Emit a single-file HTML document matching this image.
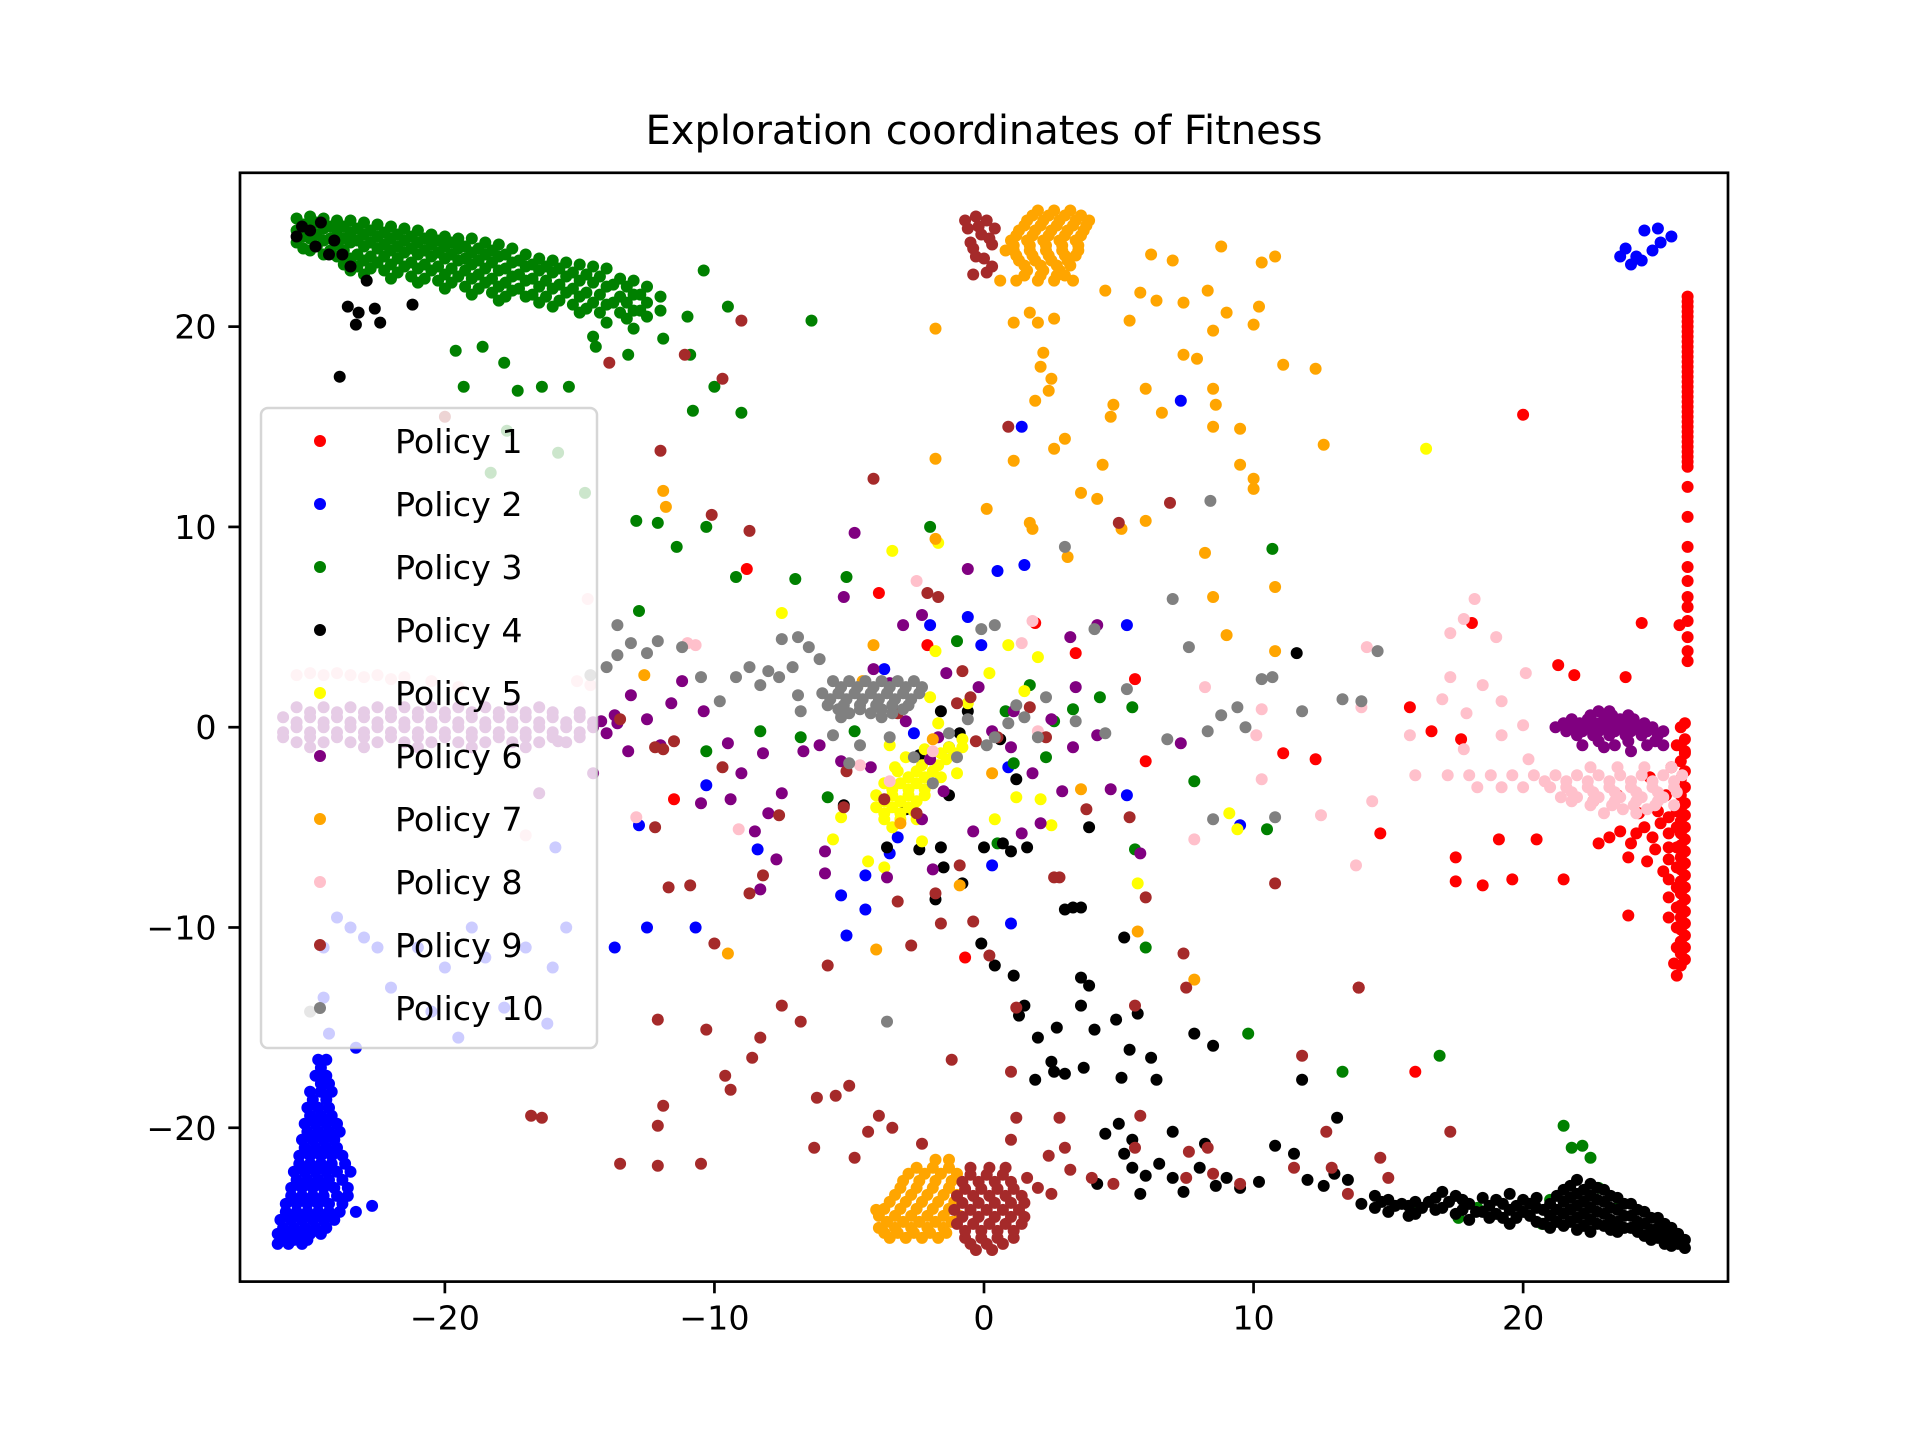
<!DOCTYPE html>
<html><head><meta charset="utf-8"><title>Exploration coordinates of Fitness</title>
<style>html,body{margin:0;padding:0;background:#fff;}svg{display:block;font-family:"DejaVu Sans","Liberation Sans",sans-serif;}</style>
</head><body>
<svg id="chart" width="1920" height="1440" viewBox="0 0 1920 1440" xmlns="http://www.w3.org/2000/svg">
<rect width="1920" height="1440" fill="#fff"/>
<text x="984" y="144" text-anchor="middle" font-size="40" fill="#000">Exploration coordinates of Fitness</text>
<g id="marks"></g>
<g id="axes"></g>
<g id="legend"></g>
</svg>
<script>
const seriesNames = ["Policy 1","Policy 2","Policy 3","Policy 4","Policy 5","Policy 6","Policy 7","Policy 8","Policy 9","Policy 10"];
const seriesColors = ["#ff0000","#0000ff","#008000","#000000","#ffff00","#800080","#ffa500","#ffc0cb","#a52a2a","#808080"];
const xTicks = [-20,-10,0,10,20];
const yTicks = [-20,-10,0,10,20];
const xDomain = [-27.6,27.6];
const yDomain = [-27.68,27.68];

const policy1 = [[26.1,21.5],[26.1,21],[26.1,20.5],[26.1,20],[26.1,19.5],[26.1,19],[26.1,18.5],[26.1,18],[26.1,17.5],[26.1,17],[26.1,16.5],[26.1,16],[26.1,15.5],[26.1,15],[26.1,14.5],[26.1,14],[26.1,13.5],[26.1,13],[26.1,12],[26.1,10.5],[26.1,9],[26.1,8],[26.1,7.3],[26.1,6.5],[26.1,6],[26.1,5.3],[26.1,4.5],[26.1,3.8],[26.1,3.3],[25.8,5.1],
[26,0.2],[26,-0.6],[26,-1.2],[26,-2.2],[26,-3],[26,-3.8],[26,-4.4],[26,-5],[26,-5.6],[26,-6.2],[26,-6.8],[26,-7.4],[26,-8],[26,-8.6],[26,-9.2],[26,-9.8],[26,-10.4],[26,-11],[26,-11.6],[25.7,-12.4],[25.7,-4.2],[25.7,-5],[25.7,-6],[25.7,-7],[25.7,-8],[25.7,-9],[25.7,-10],[25.7,-11],[25.6,-11.8],
[24.5,-5],[24.8,-5.5],[25.1,-4.8],[25.4,-6],[24.2,-5.3],[23.6,-5.2],[23.2,-5.5],[22.8,-5.8],[23.9,-6.5],[24.6,-6.7],[25,-4.2],[25.3,-3.4],[24.7,-2.5],[25.5,-2],[26,-1.3],[25.7,-0.9],[25.2,-7.2],[24.3,-4.3],
[20,15.6],[-8.8,7.9],[-3.9,6.7],[1.9,5.2],[-2.1,4.1],[3.4,3.7],[5.6,2.4],[6,-1.7],[11.1,-1.3],[12.3,-1.6],[14.7,-5.3],[13.9,-13],[16,-17.2],[-0.7,-11.5],[-11.5,-3.6],[15.8,1],[16.6,-0.2],[17.7,-0.6],[18.1,5.2],[21.3,3.1],[21.9,2.6],[17.5,-6.5],[17.5,-7.7],[18.5,-7.9],[19.1,-5.6],[19.6,-7.6],[20.5,-5.6],[21.5,-7.6],[22.6,-3.7],[23.9,-9.4],[23.8,2.5],[24.4,5.2],[23.5,-3.4]];
const policy1Dense = [[26.1,21.25],[26.1,20.75],[26.1,20.25],[26.1,19.75],[26.1,19.25],[26.1,18.75],[26.1,18.25],[26.1,17.75],[26.1,17.25],[26.1,16.75],[26.1,16.25],[26.1,15.75],[26.1,15.25],[26.1,14.75],[26.1,14.25],[26.1,13.75],[26.1,13.25],
[25.85,0],[25.85,-0.9],[25.85,-1.7],[25.85,-2.6],[25.85,-3.4],[25.85,-4.1],[25.85,-4.7],[25.85,-5.3],[25.85,-5.9],[25.85,-6.5],[25.85,-7.1],[25.85,-7.7],[25.85,-8.3],[25.85,-8.9],[25.85,-9.5],[25.85,-10.1],[25.85,-10.7],[25.85,-11.3],[25.85,-11.9],[25.4,-4.5],[25.4,-5.3],[25.4,-6.6],[25.4,-7.6],[25.4,-8.5],[25.4,-9.5],[24.9,-6.1],[24.0,-5.8]];

const policy2 = [[23.6,23.5],[24,23.1],[24.4,23.3],[24.8,23.8],[25.1,24.2],[25.5,24.5],[24.5,24.8],[25,24.9],[23.8,23.9],[24.2,23.5],
[-24.7,-16.6],[-24.4,-16.6],[-24.8,-17.4],[-24.4,-17.4],[-25,-18.2],[-24.6,-18.2],[-24.2,-18.2],[-25.1,-19],[-24.7,-19],[-24.3,-19],[-25.2,-19.8],[-24.8,-19.8],[-24.4,-19.8],[-24,-19.8],[-25.3,-20.6],[-24.9,-20.6],[-24.5,-20.6],[-24.1,-20.6],[-25.4,-21.4],[-25,-21.4],[-24.6,-21.4],[-24.2,-21.4],[-23.8,-21.4],[-25.6,-22.2],[-25.2,-22.2],[-24.8,-22.2],[-24.4,-22.2],[-24,-22.2],[-23.5,-22.2],[-25.7,-23],[-25.3,-23],[-24.9,-23],[-24.5,-23],[-24.1,-23],[-23.6,-23],[-25.9,-23.8],[-25.5,-23.8],[-25.1,-23.8],[-24.7,-23.8],[-24.3,-23.8],[-23.8,-23.8],[-26.1,-24.6],[-25.7,-24.6],[-25.3,-24.6],[-24.9,-24.6],[-24.5,-24.6],[-24.1,-24.6],[-26.2,-25.3],[-25.8,-25.3],[-25.4,-25.3],[-25,-25.3],[-24.6,-25.3],[-26.2,-25.8],[-25.8,-25.8],[-25.3,-25.8],[-22.7,-23.9],[-23.3,-24.2],
[7.3,16.3],[1.4,15],[1.5,8.1],[0.5,7.8],[-2,5.1],[5.3,5.1],[-0.6,5.5],[-0.1,4.1],[-3.7,2.9],[-10.3,-2.9],[-12.8,-4.9],[-13.7,-11],[-10.7,-10],[-12.5,-10],[-8.4,-6.1],[-5.3,-8.4],[-5.1,-10.4],[-4.4,-9.1],[-4.4,-7.4],[-3.5,-6.3],[-3.2,-5.5],[0.3,-6.9],[1,-9.8],[5.3,-3.4],[9.5,-4.9],[-1.3,-1],[-2.6,-0.3],[0.9,-2.0],
[-24,-9.5],[-23.5,-10],[-23,-10.5],[-22.5,-11],[-24.5,-11],[-21,-11],[-20,-12],[-19,-10],[-18.5,-11.5],[-17,-11],[-16,-12],[-15.5,-10],[-24.5,-13.5],[-22,-13],[-20.5,-14.2],[-19.5,-15.5],[-17.8,-14],[-16.2,-14.8],[-24.3,-15.3],[-23.3,-16],[-15.9,-6]];
const policy2Dense = [[-24.6,-17],[-24.6,-17.8],[-24.3,-17.8],[-24.9,-18.6],[-24.4,-18.6],[-25,-19.4],[-24.6,-19.4],[-24.2,-19.4],[-25.1,-20.2],[-24.7,-20.2],[-24.3,-20.2],[-23.9,-20.2],[-25.2,-21],[-24.8,-21],[-24.4,-21],[-24,-21],[-25.4,-21.8],[-25,-21.8],[-24.6,-21.8],[-24.2,-21.8],[-23.7,-21.8],[-25.5,-22.6],[-25.1,-22.6],[-24.7,-22.6],[-24.3,-22.6],[-23.8,-22.6],[-25.7,-23.4],[-25.3,-23.4],[-24.9,-23.4],[-24.5,-23.4],[-24,-23.4],[-23.6,-23.4],[-25.9,-24.2],[-25.5,-24.2],[-25.1,-24.2],[-24.7,-24.2],[-24.3,-24.2],[-23.9,-24.2],[-26,-25],[-25.6,-25],[-25.2,-25],[-24.8,-25],[-24.4,-25],[-26,-25.6],[-25.6,-25.6],[-25.1,-25.6]];

const policy3 = [[-25.5,25.4],[-25.5,24.8],[-25.5,24.2],[-25,25.5],[-25,25],[-25,24.4],[-25,23.8],[-24.5,25.4],[-24.5,24.9],[-24.5,24.3],[-24.5,23.6],[-24,25.3],[-24,24.8],[-24,24.1],[-24,23.5],[-23.5,25.3],[-23.5,24.7],[-23.5,24.2],[-23.5,23.4],[-23.5,22.8],[-23,25.2],[-23,24.6],[-23,24],[-23,23.3],[-23,22.6],[-22.5,25.1],[-22.5,24.5],[-22.5,23.9],[-22.5,23.2],[-22,25],[-22,24.4],[-22,23.8],[-22,23.1],[-22,22.4],[-21.5,24.9],[-21.5,24.3],[-21.5,23.7],[-21.5,23],[-21,24.8],[-21,24.2],[-21,23.6],[-21,22.9],[-21,22.2],[-20.5,24.6],[-20.5,24.1],[-20.5,23.5],[-20.5,22.8],[-20,24.5],[-20,24],[-20,23.4],[-20,22.6],[-20,21.9],[-19.5,24.4],[-19.5,23.9],[-19.5,23.3],[-19.5,22.5],[-19,24.4],[-19,23.7],[-19,23.1],[-19,22.4],[-19,21.6],[-18.5,24.2],[-18.5,23.6],[-18.5,22.9],[-18.5,22.2],[-18,24.1],[-18,23.5],[-18,22.8],[-18,22],[-18,21.3],[-17.5,23.9],[-17.5,23.2],[-17.5,22.5],[-17.5,21.8],[-17,23.6],[-17,23],[-17,22.3],[-17,21.5],[-16.5,23.4],[-16.5,22.8],[-16.5,22],[-16.5,21.2],[-16,23.3],[-16,22.7],[-16,21.9],[-16,21],[-15.5,23.2],[-15.5,22.5],[-15.5,21.7],[-15,23.1],[-15,22.3],[-15,21.5],[-15,20.7],[-14.5,23],[-14.5,22.2],[-14.5,21.2],[-14.5,19.5],[-14,22.9],[-14,22],[-14,21.1],[-14,20.2],[-13.5,22.4],[-13.5,21.5],[-13.5,20.7],[-13,22.3],[-13,21.6],[-13,20.8],[-13,19.9],[-12.5,22],[-12.5,21.2],[-12.5,20.5],[-12,21.5],[-12,20.8],
[-10.4,22.8],[-9.5,21],[-6.4,20.3],[-11,20.5],[-11.9,19.4],[-10.9,18.6],[-10,17],[-9,15.7],[-10.8,15.8],[-13.2,18.6],[-14.4,19],[-15.4,17],[-16.4,17],[-17.3,16.8],[-17.8,18.2],[-18.6,19],[-19.6,18.8],[-19.3,17],[-18.3,12.7],[-17.7,14.8],[-15.8,13.7],[-14.8,11.7],[-12.9,10.3],[-12.1,10.2],[-11.4,9],[-12.8,5.8],[-10.3,10],[-9.2,7.5],[-7,7.4],[-5.1,7.5],[-2,10],[5.5,1],[0.8,0.8],[10.7,8.9],[10.5,-5.1],[6,-11],[9.8,-15.3],[13.3,-17.2],[16.9,-16.4],[21.5,-19.9],[21.8,-21],[22.2,-20.9],[22.5,-21.5],[21,-23.6],[20.7,-24.8],[18.3,-24],[17.6,-24.5],[15.9,-24.2],[22.8,-23],[23.5,-24],[-10.3,-1.2],[-8.3,-0.2],[-6.8,-0.5],[-4.8,-0.2],[1.1,-1.8],[2.3,-1.5],[2.6,0.3],[3.3,0.9],[4.3,1.5],[-1,4.3],[-5.8,-3.5],[0.5,-5.8],[5.6,-6.1],[7.8,-2.7],[1.7,2.1]];
const policy3Dense = [[-25.25,25.1],[-25.25,24.5],[-25.25,23.9],[-24.75,25.2],[-24.75,24.6],[-24.75,24],[-24.25,25],[-24.25,24.4],[-24.25,23.8],[-23.75,25],[-23.75,24.4],[-23.75,23.8],[-23.75,23.1],[-23.25,24.9],[-23.25,24.3],[-23.25,23.6],[-23.25,23],[-22.75,24.8],[-22.75,24.2],[-22.75,23.5],[-22.75,22.9],[-22.25,24.7],[-22.25,24.1],[-22.25,23.5],[-22.25,22.8],[-21.75,24.6],[-21.75,24],[-21.75,23.4],[-21.75,22.7],[-21.25,24.5],[-21.25,23.9],[-21.25,23.2],[-21.25,22.5],[-20.75,24.4],[-20.75,23.8],[-20.75,23.1],[-20.75,22.4],[-20.25,24.3],[-20.25,23.7],[-20.25,23],[-20.25,22.3],[-19.75,24.2],[-19.75,23.6],[-19.75,22.9],[-19.75,22.2],[-19.25,24],[-19.25,23.4],[-19.25,22.8],[-19.25,22],[-18.75,23.9],[-18.75,23.3],[-18.75,22.6],[-18.75,21.9],[-18.25,23.8],[-18.25,23.2],[-18.25,22.4],[-18.25,21.7],[-17.75,23.6],[-17.75,22.9],[-17.75,22.2],[-17.75,21.5],[-17.25,23.3],[-17.25,22.6],[-17.25,21.9],[-16.75,23.1],[-16.75,22.4],[-16.75,21.6],[-16.25,23],[-16.25,22.3],[-16.25,21.5],[-15.75,22.9],[-15.75,22.1],[-15.75,21.3],[-15.25,22.7],[-15.25,21.9],[-15.25,21.1],[-14.75,22.6],[-14.75,21.7],[-14.75,20.9],[-14.25,22.5],[-14.25,21.6],[-14.25,20.7],[-13.75,22.1],[-13.75,21.2],[-13.25,22],[-13.25,21.2],[-13.25,20.4],[-12.75,21.6],[-12.75,20.8]];

const policy4 = [[-25.3,25],[-25.5,24.5],[-24.8,24],[-24.3,23.6],[-23.8,23.6],[-23.5,23],[-22.9,22.3],[-23.6,21],[-23.2,20.7],[-22.6,20.9],[-22.4,20.2],[-21.2,21.1],[-23.3,20.1],[-23.9,17.5],[-25,24.8],[-24.6,25.2],[-24.1,24.3],
[14.5,-23.4],[14.5,-24],[15,-23.6],[15,-24.2],[15.5,-23.8],[16,-23.7],[16,-24.3],[16.5,-23.7],[17,-23.2],[17,-24],[17.5,-23.4],[17.5,-24.3],[18,-23.8],[18,-24.6],[18.5,-23.5],[18.5,-24.2],[19,-23.6],[19,-24.3],[19.5,-23.3],[19.5,-24.1],[19.5,-24.8],[20,-23.6],[20,-24.2],[20.5,-23.5],[20.5,-24],[20.5,-24.7],[21,-23.8],[21,-24.4],[21,-25],[21.5,-23.1],[21.5,-23.7],[21.5,-24.3],[21.5,-24.9],[22,-22.6],[22,-23.3],[22,-23.9],[22,-24.5],[22,-25.1],[22.5,-22.8],[22.5,-23.4],[22.5,-24],[22.5,-24.6],[22.5,-25.2],[23,-23.1],[23,-23.7],[23,-24.3],[23,-24.9],[23.5,-23.5],[23.5,-24.1],[23.5,-24.7],[23.5,-25.2],[24,-23.8],[24,-24.4],[24,-25],[24.5,-24.2],[24.5,-24.8],[24.5,-25.4],[25,-24.5],[25,-25],[25,-25.5],[25.5,-25],[25.5,-25.5],[25.5,-25.9],[26,-25.6],[26,-26],
[-2.4,-6.1],[-1.6,-6],[-1.5,-7],[-1.8,-8.6],[-0.8,-7.8],[0,-6],[0.7,-5.8],[1,-6.2],[0.4,-11.9],[1.1,-12.4],[-0.1,-10.8],[1.5,-13.9],[1.3,-14.4],[2.7,-15],[2,-15.5],[2.5,-16.7],[3.6,-13.9],[4.1,-15.1],[3.7,-17],[2.6,-17.2],[1.9,-17.6],[4.9,-14.6],[5.4,-16.1],[5.1,-17.5],[6.2,-16.5],[5.7,-14.3],[7.8,-15.3],[8.5,-15.9],[6.4,-17.6],[5,-19.8],[5.5,-20.6],[4.5,-20.3],[3,-17.3],[3.3,-9],[3,-9.1],[3.6,-9],[5.2,-10.5],[3.6,-12.5],[3.9,-12.9],[4.2,-22.8],
[5.5,-22],[6,-22.4],[6.5,-21.8],[7,-22.5],[7.4,-23.2],[8,-22],[8.6,-22.9],[9,-22.5],[9.5,-23],[10.2,-22.7],[10.8,-20.9],[11.5,-21.3],[12,-22.6],[12.6,-22.9],[13,-22.3],[13.5,-22.6],[14,-23.8],[5.8,-23.3],[5.2,-21.3],[7,-20.2],[8.2,-20.8],[11.8,-17.6],[13.1,-19.5],
[-0.6,0.8],[-0.9,-0.3],[1.2,-2.6],[1.6,-6],[-5.2,-3.9],[3.9,-5],[-3.6,-6],[11.6,3.7],[-1.6,0.8],[-2.4,-1.4],[0.6,-0.6],[-2.9,-4.1],[-1.3,-3.4]];
const policy4Dense = [[14.75,-23.7],[15.25,-23.9],[15.75,-23.9],[15.75,-24.4],[16.25,-24],[16.75,-23.5],[16.75,-24.1],[17.25,-23.7],[17.75,-23.6],[17.75,-24.1],[18.25,-24.2],[18.75,-23.9],[18.75,-24.5],[19.25,-23.8],[19.25,-24.5],[19.75,-23.9],[19.75,-24.5],[20.25,-23.8],[20.25,-24.4],[20.75,-24.1],[20.75,-24.8],[21.25,-23.4],[21.25,-24.1],[21.25,-24.7],[21.75,-22.9],[21.75,-23.5],[21.75,-24.1],[21.75,-24.7],[22.25,-23.1],[22.25,-23.7],[22.25,-24.3],[22.25,-24.9],[22.75,-23],[22.75,-23.6],[22.75,-24.2],[22.75,-24.8],[23.25,-23.4],[23.25,-24],[23.25,-24.6],[23.25,-25.1],[23.75,-23.8],[23.75,-24.4],[23.75,-25],[24.25,-24.1],[24.25,-24.7],[24.25,-25.2],[24.75,-24.5],[24.75,-25.1],[24.75,-25.6],[25.25,-24.8],[25.25,-25.3],[25.25,-25.8],[25.75,-25.3],[25.75,-25.8]];

const policy5 = [[-1.3,-1],[-0.8,-1],[-2,-1.6],[-1.4,-1.6],[-3.2,-2.2],[-2.5,-2.2],[-1.9,-2.2],[-3.7,-2.8],[-3.1,-2.8],[-2.5,-2.8],[-1.9,-2.8],[-4,-3.4],[-3.4,-3.4],[-2.8,-3.4],[-2.2,-3.4],[-4,-4],[-3.4,-4],[-2.8,-4],[-3.7,-4.6],[-3.1,-4.6],[-2.5,-4.6],[-3.4,-5],
[16.4,13.9],[-3.4,8.8],[-1.7,9.2],[-7.5,5.7],[-1.8,3.8],[0.9,4.1],[2,3.5],[-0.6,1.2],[0.2,2.7],[1.5,1.8],[-0.8,-0.6],[-5.3,-4.5],[-5.6,-5.6],[-4.3,-6.7],[-2.3,-5.7],[-3.7,-7],[0.4,-4.6],[2.5,-4.9],[5.7,-7.8],[9.1,-4.3],[9.4,-5.1],[-1,-2.3],[-2.2,-1.1],[-1.7,0.2],[-3.5,-0.9],[-2,1.5],[1.2,-3.5],[2.1,-3.6]];
const policy5Dense = [[-1.6,-1.3],[-1.1,-1.3],[-2.3,-1.9],[-1.7,-1.9],[-2.8,-2.5],[-2.2,-2.5],[-1.6,-2.5],[-3.4,-3.1],[-2.8,-3.1],[-2.2,-3.1],[-3.7,-3.7],[-3.1,-3.7],[-2.5,-3.7],[-3.7,-4.3],[-3.1,-4.3],[-2.6,-4.2],[-3.3,-2],[-2.9,-1.5]];

const policy6 = [[22.8,0.8],[23.2,0.8],[21.8,0.4],[22.4,0.4],[23,0.4],[23.6,0.4],[24.1,0.4],[21.2,0],[21.8,0],[22.4,0],[23,0],[23.6,0],[24.2,0],[24.8,0],[22,-0.4],[22.6,-0.4],[23.2,-0.4],[23.8,-0.4],[24.4,-0.4],[25,-0.4],[22.2,-0.9],[23.4,-0.9],[24.6,-0.9],[25.2,-0.9],
[-25.5,1],[-24.5,1],[-23.5,1],[-22.5,1],[-21.5,1],[-20.5,1],[-19.5,1],[-18.5,1],[-17.5,1],[-16.5,1],[-26,0.5],[-25,0.5],[-24,0.5],[-23,0.5],[-22,0.5],[-21,0.5],[-20,0.5],[-19,0.5],[-18,0.5],[-17,0.5],[-16,0.5],[-15,0.5],[-25.5,0],[-24.5,0],[-23.5,0],[-22.5,0],[-21.5,0],[-20.5,0],[-19.5,0],[-18.5,0],[-17.5,0],[-16.5,0],[-15.5,0],[-14.5,0],[-26,-0.5],[-25,-0.5],[-24,-0.5],[-23,-0.5],[-22,-0.5],[-21,-0.5],[-20,-0.5],[-19,-0.5],[-18,-0.5],[-17,-0.5],[-16,-0.5],[-15,-0.5],[-25,-1],[-23,-1],[-21,-1],[-19,-1],[-17,-1],[-14.2,0.3],[-14,-0.3],[-13.7,0.6],[-16.5,-3.3],[-15.8,-0.7],[-14.5,-2.3],
[-4.8,9.7],[-0.6,7.9],[-5.2,6.5],[-3,5.1],[-2.3,5.6],[4.2,5.1],[3.2,4.5],[-4.1,2.9],[-3.5,2.2],[-1.4,2.7],[-0.2,2],[3.4,2],[1.1,0.8],[-6.1,-0.9],[-6.7,-1.2],[-5.3,-1.7],[-7.5,-3.3],[-8.2,-1.3],[-13.6,0.2],[-13.2,-1.2],[-12.5,0.4],[-12,-0.9],[-11.6,1.2],[-10.4,0.8],[-9.5,-0.8],[-9,-2.3],[-10.5,-3.8],[-8,-4.3],[-9.4,-3.6],[-8.5,-5.2],[-7.7,-6.6],[-8.3,-8.1],[-4.2,-2],[-2,-1.6],[-1.5,-3.2],[1,-1],[1.4,-5.3],[2.9,-3.2],[3.3,-1],[4.2,-0.4],[5.8,-6.3],[7.3,-0.8],[-5.9,-6.2],[-5.9,-7.3],[-3.6,-7.5],[-0.4,-5.2],[-1.9,-7.1],[-2.3,-4.6],[-2.9,0.3],[-1.7,-0.5],[0.3,-0.2],[2.5,0.4],[1.8,-2.3],[4.7,-3.1],[2.1,-4.8],[-13.1,1.6],[-11.2,2.3]];
const policy6Dense = [[22.5,0.6],[23.3,0.6],[23.9,0.6],[21.5,0.2],[22.1,0.2],[22.7,0.2],[23.3,0.2],[23.9,0.2],[24.5,0.2],[21.6,-0.2],[22.2,-0.2],[22.8,-0.2],[23.4,-0.2],[24,-0.2],[24.6,-0.2],[25.2,-0.2],[22.8,-0.7],[23.9,-0.7],[24.9,-0.7],[23,-1],[24,-1.2],
[-25,0.75],[-24,0.75],[-23,0.75],[-22,0.75],[-21,0.75],[-20,0.75],[-19,0.75],[-18,0.75],[-17,0.75],[-16,0.75],[-15,0.75],[-25.5,0.25],[-24.5,0.25],[-23.5,0.25],[-22.5,0.25],[-21.5,0.25],[-20.5,0.25],[-19.5,0.25],[-18.5,0.25],[-17.5,0.25],[-16.5,0.25],[-15.5,0.25],[-14.5,0.25],[-26,-0.25],[-25,-0.25],[-24,-0.25],[-23,-0.25],[-22,-0.25],[-21,-0.25],[-20,-0.25],[-19,-0.25],[-18,-0.25],[-17,-0.25],[-16,-0.25],[-15,-0.25],[-25.5,-0.75],[-24.5,-0.75],[-23.5,-0.75],[-22.5,-0.75],[-21.5,-0.75],[-20.5,-0.75],[-19.5,-0.75],[-18.5,-0.75],[-17.5,-0.75],[-16.5,-0.75],[-15.5,-0.75]];

const policy7 = [[2,25.8],[2.6,25.8],[3.2,25.8],[1.6,25.3],[2.2,25.3],[2.8,25.3],[3.4,25.3],[3.9,25.3],[1.3,24.8],[1.9,24.8],[2.5,24.8],[3.1,24.8],[3.7,24.8],[1,24.3],[1.6,24.3],[2.2,24.3],[2.8,24.3],[3.4,24.3],[1.1,23.8],[1.7,23.8],[2.3,23.8],[2.9,23.8],[3.5,23.8],[1.3,23.3],[1.9,23.3],[2.5,23.3],[3.1,23.3],[1.6,22.8],[2.2,22.8],[2.8,22.8],[1.2,22.3],[2,22.3],[2.6,22.3],[3.3,22.3],[0.6,22.3],[0.8,23.8],
[6.2,23.6],[7,23.3],[7.4,21.2],[5.8,21.7],[4.5,21.8],[5.4,20.3],[6.4,21.3],[8.8,24],[8.3,21.8],[10.3,23.2],[10.8,23.5],[10.2,21],[10,20.1],[9,20.7],[8.5,19.8],[7.9,18.4],[7.4,18.6],[2.6,20.4],[2,20.2],[1.1,20.2],[1.7,20.7],[2.2,18.7],[2.1,18],[2.5,17.4],[1.9,16.3],[2.4,16.8],[3,14.4],[2.6,13.9],[1.1,13.3],[-1.8,13.4],[-1.8,19.9],[4.7,15.5],[4.4,13.1],[3.6,11.7],[4.2,11.4],[4.8,16.1],[6,16.9],[6.6,15.7],[8.5,16.9],[8.6,16.1],[8.5,15],[9.5,14.9],[9.5,13.1],[10,12.4],[10,11.9],[11.1,18.1],[12.3,17.9],[12.6,14.1],[8.2,8.7],[8.5,6.5],[9,4.6],[10.8,7],[10.8,3.8],[6,10.3],[5.1,9.9],[1.7,10.2],[1.8,9.9],[3.1,8.5],[0.1,10.9],[-1.8,9.4],[-4.1,4.1],[-4.5,2.3],[-12.6,2.6],[-11.9,11.8],[-11.8,11],[-9.5,-11.3],[-4,-11.1],[-0.9,-7.9],[3.6,-3.1],[5.7,-10.2],[7.8,-12.6],[-1.9,-0.6],[-3.1,-4.8],[0.3,-2.3],
[-1.8,-21.6],[-1.3,-21.6],[-2.8,-22.3],[-2.2,-22.3],[-1.6,-22.3],[-1,-22.3],[-3.1,-23],[-2.5,-23],[-1.9,-23],[-1.3,-23],[-3.5,-23.7],[-2.9,-23.7],[-2.3,-23.7],[-1.7,-23.7],[-1.1,-23.7],[-3.9,-24.4],[-3.3,-24.4],[-2.7,-24.4],[-2.1,-24.4],[-1.5,-24.4],[-0.9,-24.4],[-3.9,-25],[-3.3,-25],[-2.7,-25],[-2.1,-25],[-1.5,-25],[-3.5,-25.5],[-2.9,-25.5],[-2.3,-25.5],[-1.7,-25.5],[-4,-24.1]];
const policy7Dense = [[1.8,25.55],[2.4,25.55],[3,25.55],[3.6,25.55],[1.5,25.05],[2.1,25.05],[2.7,25.05],[3.3,25.05],[3.8,25.05],[1.2,24.55],[1.8,24.55],[2.4,24.55],[3,24.55],[3.6,24.55],[1.1,24.05],[1.7,24.05],[2.3,24.05],[2.9,24.05],[3.5,24.05],[1.2,23.55],[1.8,23.55],[2.4,23.55],[3,23.55],[3.4,23.55],[1.5,23.05],[2.1,23.05],[2.7,23.05],[3.2,23.05],[1.5,22.55],[2.1,22.55],[2.7,22.55],[3,22.55],
[-2.5,-22],[-1.9,-22],[-1.3,-22],[-3,-22.65],[-2.4,-22.65],[-1.8,-22.65],[-1.2,-22.65],[-3.3,-23.35],[-2.7,-23.35],[-2.1,-23.35],[-1.5,-23.35],[-1,-23.35],[-3.7,-24.05],[-3.1,-24.05],[-2.5,-24.05],[-1.9,-24.05],[-1.3,-24.05],[-3.6,-24.7],[-3,-24.7],[-2.4,-24.7],[-1.8,-24.7],[-1.2,-24.7],[-3.7,-25.25],[-3.2,-25.25],[-2.6,-25.25],[-2,-25.25],[-1.4,-25.25]];

const policy8 = [[17.2,-2.4],[18,-2.4],[18.8,-2.4],[19.6,-2.4],[20.4,-2.4],[21.2,-2.4],[22,-2.4],[22.8,-2.4],[23.6,-2.4],[24.4,-2.4],[25.2,-2.4],[25.9,-2.4],[18.3,-3],[19.2,-3],[20,-3],[21,-3],[21.6,-3],[22.4,-3],[23.2,-3],[24,-3],[24.8,-3],[25.6,-3],[21.4,-3.5],[22,-3.5],[22.8,-3.5],[23.6,-3.5],[24.4,-3.5],[25.2,-3.5],[22.5,-3.9],[23.3,-3.9],[24.1,-3.9],[24.9,-3.9],[25.6,-3.9],[23,-4.3],[24.2,-4.3],
[18.2,6.4],[17.8,5.4],[17.3,4.7],[19,4.5],[20.1,2.7],[17.3,2.5],[17,1.4],[17.9,0.7],[19.2,1.3],[20,0.1],[18.5,2.1],[19.2,-0.4],[20.2,-1.6],[17.8,-1.1],[16,-2.4],[15.8,-0.4],[14.4,-3.7],[13.8,-6.9],[12.5,-4.4],[14.2,4],[10.3,-2.6],[10.1,-0.4],[10.3,0.9],[8.2,2],[7.8,-5.6],[14,1],[-2.5,7.3],[-3.5,-2.7],[-4.6,-1.9],[1.8,5.3],[1.4,4.2],[-11,4.2],[-10.7,4.1],[-9.1,-5.1],[-14.7,6.4],[-12.9,-4.5],[-17,-5.4],[-1.9,-1.2],[2,-0.2],
[-25.5,2.6],[-25,2.7],[-24.5,2.6],[-24,2.7],[-23.5,2.6],[-23,2.5],[-22.5,2.6],[-22,2.4],[-21.5,2.5],[-20.5,2.3],[-19.5,2],[-15.1,2.3],[-14.6,2.1]];
const policy8Dense = [[20.8,-2.7],[21.6,-2.7],[22.4,-2.7],[23.2,-2.7],[24,-2.7],[24.8,-2.7],[25.6,-2.7],[21.8,-3.25],[22.6,-3.25],[23.4,-3.25],[24.2,-3.25],[25,-3.25],[25.7,-3.25],[21.8,-3.7],[22.6,-3.7],[23.4,-3.7],[24.2,-3.7],[25,-3.7],[22.5,-2],[23.5,-2],[24.5,-2],[25.5,-2],[23.7,-4.1],[24.6,-4.1]];

const policy9 = [[-0.5,-22],[0.2,-22],[0.8,-22],[-0.8,-22.7],[-0.2,-22.7],[0.4,-22.7],[1,-22.7],[-1,-23.4],[-0.4,-23.4],[0.2,-23.4],[0.8,-23.4],[1.4,-23.4],[-1.1,-24.1],[-0.5,-24.1],[0.1,-24.1],[0.7,-24.1],[1.3,-24.1],[-1,-24.8],[-0.4,-24.8],[0.2,-24.8],[0.8,-24.8],[1.4,-24.8],[-0.7,-25.5],[-0.1,-25.5],[0.5,-25.5],[1.1,-25.5],[-0.3,-26.1],[0.3,-26.1],
[1.6,-22.5],[2,-23],[2.5,-23.3],[3.2,-22.1],[2.4,-21.4],[3,-21],[4,-22.5],[4.8,-22.8],[5.6,-21],[7.5,-22.5],[8.3,-21],[8.5,-22.3],[9.5,-22.8],[11.5,-22],[12.7,-20.2],[12.9,-22],[13.5,-23.3],[15,-22.5],[17.3,-20.2],[14.7,-21.5],
[-0.3,25.5],[0.1,25.3],[-0.6,24.9],[-0.1,24.6],[0.3,24.1],[-0.4,23.9],[0,23.4],[-0.5,24.2],[0.4,24.9],[0.1,22.7],[-0.4,22.6],
[-9,20.3],[-9.7,17.4],[-11.1,18.6],[-13.9,18.2],[-12,13.8],[-10.1,10.6],[-8.7,9.8],[-4.1,12.4],[0.9,15],[5,10.2],[6.9,11.2],[-2.1,6.7],[-1.7,6.5],[-20,15.5],
[-7.6,-4.4],[-8.2,-7.4],[-8.7,-8.3],[-5.2,-4],[-5.1,-2.2],[-2.5,-4.3],[-0.9,-6.9],[-3.2,-8.7],[-1.8,-8.3],[-2.7,-10.9],[-1.6,-9.8],[-0.4,-9.7],[1.2,-14],[0.2,-11.4],[2.8,-7.5],[2.6,-7.5],[3.8,-4.1],[6,-8.5],[7.4,-11.3],[7.5,-13],[5.6,-13.9],[10.8,-7.8],[11.8,-16.4],[13.9,-13],[-11.7,-8],[-10,-10.8],[-12.1,-14.6],[-10.3,-15.1],[-9.6,-17.4],[-9.4,-18.1],[-8.3,-15.5],[-8.6,-16.5],[-7.5,-13.9],[-6.8,-14.7],[-5.8,-11.9],[-5,-17.9],[-5.5,-18.4],[-6.2,-18.5],[-4.3,-20.2],[-3.9,-19.4],[-3.4,-20],[-2.3,-20.8],[-4.8,-21.5],[-6.3,-21],[-11.9,-18.9],[-12.1,-19.9],[-12.1,-21.9],[-13.5,-21.8],[-10.5,-21.8],[-16.8,-19.4],[-16.4,-19.5],[1,-17.2],[1.2,-19.5],[1,-20.6],[2.8,-19.5],[5.8,-19.4],[7.6,-21.2],[-1.2,-16.6],[-3.7,-3.6],[-0.3,-0.7],[-3.2,0.7],[-0.8,2.8],[-1,1.2],[-0.5,1.5],[0.5,-0.5],[1.7,1],[2.3,-0.5],[-9.7,-2],[-12.2,-1],[-12.2,-5],[-11.5,-0.7],[-10.9,-7.9],[-13.5,0.4],[-11.9,-1.1],[5.4,-4.5]];
const policy9Dense = [[-0.5,-22.35],[0.1,-22.35],[0.7,-22.35],[-0.7,-23.05],[-0.1,-23.05],[0.5,-23.05],[1.1,-23.05],[-0.8,-23.75],[-0.2,-23.75],[0.4,-23.75],[1,-23.75],[1.5,-23.75],[-0.8,-24.45],[-0.2,-24.45],[0.4,-24.45],[1,-24.45],[1.5,-24.45],[-0.7,-25.15],[-0.1,-25.15],[0.5,-25.15],[1.1,-25.15],[-0.5,-25.8],[0.1,-25.8],[0.7,-25.8],
[-0.2,25],[0.2,24.4],[-0.3,23.5],[0.3,23],[-0.7,25.3]];

const policy10 = [[-5.6,2.3],[-5,2.3],[-4.4,2.3],[-3.8,2.3],[-3.2,2.3],[-2.6,2.3],[-6,1.7],[-5.4,1.7],[-4.8,1.7],[-4.2,1.7],[-3.6,1.7],[-3,1.7],[-2.4,1.7],[-5.8,1.1],[-5.2,1.1],[-4.6,1.1],[-4,1.1],[-3.4,1.1],[-2.8,1.1],[-5,0.7],[-4.2,0.7],[-3.4,0.7],
[-14.6,2.6],[-14,3],[-13.6,3.6],[-13.1,4.2],[-12.5,3.7],[-13.6,5.1],[-12.1,4.3],[-11.2,4],[-10.5,2.5],[-9.8,1.3],[-9.2,2.5],[-8.7,3],[-8.3,2.1],[-8,2.8],[-7.6,2.5],[-7.1,3],[-6.9,1.6],[-7.5,4.4],[-6.9,4.5],[-6.5,4],[-6.1,3.4],[-6.8,0.8],[-5.3,0.5],[-5.6,-0.4],[-5,-1.8],[-4.6,-0.9],[-3.8,0.5],[-3.5,-0.5],[-1.9,-2.8],[-2.6,-1.5],[-1.3,-0.3],[-0.6,0.4],[0.1,-0.9],[0.4,-0.5],[0.9,0.2],[1.5,0.5],[2.3,1.5],[2,-0.5],[3,9],[4.1,4.9],[0.4,5.1],[-0.1,4.9],[5.3,1.9],[6.8,-0.6],[8.4,11.3],[7,6.4],[7.6,4],[8.5,-4.6],[8.3,-0.2],[8.8,0.6],[9.4,1],[10.3,2.4],[10.7,2.5],[11.8,0.8],[13.3,1.4],[14,1.3],[14.6,3.8],[10.8,-4.5],[9.7,0],[4.5,-0.3],[3.4,0.3],[-3.6,-14.7],[-25,-14.2],[-1,-1.5],[1.2,1.1]];
const policy10Dense = [[-5.3,2],[-4.7,2],[-4.1,2],[-3.5,2],[-2.9,2],[-2.3,2],[-5.7,1.4],[-5.1,1.4],[-4.5,1.4],[-3.9,1.4],[-3.3,1.4],[-2.7,1.4],[-5.4,0.9],[-4.6,0.9],[-3.8,0.9],[-3,0.9]];

const seriesData = [policy1.concat(policy1Dense),policy2.concat(policy2Dense),policy3.concat(policy3Dense),policy4.concat(policy4Dense),policy5.concat(policy5Dense),policy6.concat(policy6Dense),policy7.concat(policy7Dense),policy8.concat(policy8Dense),policy9.concat(policy9Dense),policy10.concat(policy10Dense)];

const AX = {left:240, right:1728, top:172.8, bottom:1281.6};
function xScale(v){ return AX.left + (v - xDomain[0]) / (xDomain[1]-xDomain[0]) * (AX.right-AX.left); }
function yScale(v){ return AX.bottom - (v - yDomain[0]) / (yDomain[1]-yDomain[0]) * (AX.bottom-AX.top); }
const NS = "http://www.w3.org/2000/svg";
const R = 6;

const marks = document.getElementById("marks");
const clip = document.createElementNS(NS,"clipPath");
clip.setAttribute("id","axclip");
const cr = document.createElementNS(NS,"rect");
cr.setAttribute("x",AX.left); cr.setAttribute("y",AX.top);
cr.setAttribute("width",AX.right-AX.left); cr.setAttribute("height",AX.bottom-AX.top);
clip.appendChild(cr);
document.getElementById("chart").appendChild(clip);
marks.setAttribute("clip-path","url(#axclip)");

seriesData.forEach(function(pts, si){
  const g = document.createElementNS(NS,"g");
  
  
  g.setAttribute("fill", seriesColors[si]);
  pts.forEach(function(p){
    const c = document.createElementNS(NS,"circle");
    
    
    c.setAttribute("cx", xScale(p[0]).toFixed(1));
    c.setAttribute("cy", yScale(p[1]).toFixed(1));
    c.setAttribute("r", R);
    g.appendChild(c);
  });
  marks.appendChild(g);
});

const axes = document.getElementById("axes");
const frame = document.createElementNS(NS,"rect");


frame.setAttribute("x",AX.left); frame.setAttribute("y",AX.top);
frame.setAttribute("width",AX.right-AX.left); frame.setAttribute("height",AX.bottom-AX.top);
frame.setAttribute("fill","none"); frame.setAttribute("stroke","#000"); frame.setAttribute("stroke-width","2.7");
axes.appendChild(frame);

function fmt(v){ return v < 0 ? "\u2212" + Math.abs(v) : String(v); }
xTicks.forEach(function(t){
  const x = xScale(t);
  const l = document.createElementNS(NS,"line");
  
  
  l.setAttribute("x1",x); l.setAttribute("x2",x); l.setAttribute("y1",AX.bottom); l.setAttribute("y2",AX.bottom+11.7);
  l.setAttribute("stroke","#000"); l.setAttribute("stroke-width","2.7");
  axes.appendChild(l);
  const tx = document.createElementNS(NS,"text");
  
  
  tx.setAttribute("x",x); tx.setAttribute("y",AX.bottom+48);
  tx.setAttribute("text-anchor","middle"); tx.setAttribute("font-size","33.3");
  tx.textContent = fmt(t);
  axes.appendChild(tx);
});
yTicks.forEach(function(t){
  const y = yScale(t);
  const l = document.createElementNS(NS,"line");
  
  
  l.setAttribute("x1",AX.left-11.7); l.setAttribute("x2",AX.left); l.setAttribute("y1",y); l.setAttribute("y2",y);
  l.setAttribute("stroke","#000"); l.setAttribute("stroke-width","2.7");
  axes.appendChild(l);
  const tx = document.createElementNS(NS,"text");
  
  
  tx.setAttribute("x",AX.left-23.4); tx.setAttribute("y",y+12);
  tx.setAttribute("text-anchor","end"); tx.setAttribute("font-size","33.3");
  tx.textContent = fmt(t);
  axes.appendChild(tx);
});

const legend = document.getElementById("legend");
const lb = document.createElementNS(NS,"rect");


lb.setAttribute("x",261); lb.setAttribute("y",408); lb.setAttribute("width",336); lb.setAttribute("height",640);
lb.setAttribute("rx",7); lb.setAttribute("fill","#fff"); lb.setAttribute("fill-opacity","0.8");
lb.setAttribute("stroke","#cccccc"); lb.setAttribute("stroke-opacity","0.8"); lb.setAttribute("stroke-width","2.5");
legend.appendChild(lb);
seriesNames.forEach(function(name, i){
  const y = 441 + i*63;
  const g = document.createElementNS(NS,"g");
  
  
  const c = document.createElementNS(NS,"circle");
  c.setAttribute("cx",320); c.setAttribute("cy",y); c.setAttribute("r",R);
  c.setAttribute("fill",seriesColors[i]);
  g.appendChild(c);
  const t = document.createElementNS(NS,"text");
  t.setAttribute("x",395); t.setAttribute("y",y+12); t.setAttribute("font-size","33.3");
  t.textContent = name;
  g.appendChild(t);
  legend.appendChild(g);
});
</script>
</body></html>
